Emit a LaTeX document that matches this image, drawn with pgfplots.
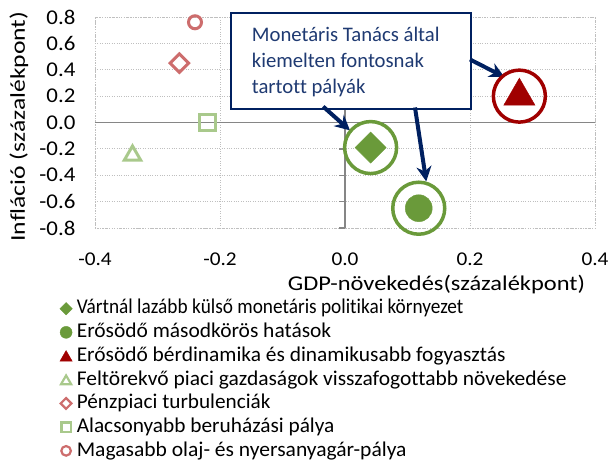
\documentclass[border=0pt]{standalone}
\usepackage{graphicx}
\usepackage{pgfplots}
\pgfplotsset{compat=1.18}
\usetikzlibrary{arrows.meta}
\usepackage{fontspec}
\setmainfont{Carlito}[Ligatures=CommonOff]
\newfontfamily\ytickfont{Carlito}[FakeStretch=1.09]
\newfontfamily\xtickfont{Carlito}[FakeStretch=1.09]
\definecolor{cgreen}{HTML}{6A9A3A}
\definecolor{clgreen}{HTML}{A9C98C}
\definecolor{clred}{HTML}{CD6D6D}
\definecolor{cdred}{HTML}{A00000}
\definecolor{cnavy}{HTML}{002060}
\definecolor{ctext}{HTML}{1F3A72}
\definecolor{cgrid}{HTML}{BFBFBF}
\definecolor{caxis}{HTML}{868686}
\newcommand{\lw}[2]{\resizebox{#1bp}{\height}{#2}}
\begin{document}
\begin{tikzpicture}
\path[use as bounding box] (-95bp,-235bp) rectangle (517bp,228bp);
\begin{axis}[
  at={(0,0)}, anchor=south west,
  scale only axis, width=500bp, height=211bp,
  xmin=-0.4, xmax=0.4, ymin=-0.8, ymax=0.8,
  xtick={-0.4,-0.2,0,0.2,0.4},
  ytick={-0.8,-0.6,-0.4,-0.2,0,0.2,0.4,0.6,0.8},
  major tick length=0pt,
  grid=major,
  grid style={cgrid, dotted, line width=0.8bp},
  axis line style={cgrid, dotted, line width=0.8bp},
  clip=false,
  /pgf/number format/assume math mode=true,
  /pgf/number format/.cd, fixed, fixed zerofill, precision=1, /pgfplots/.cd,
  yticklabel style={font=\ytickfont\fontsize{21bp}{25bp}\selectfont, text=black, xshift=-16bp},
  xticklabel style={font=\xtickfont\fontsize{19.5bp}{24bp}\selectfont, text=black, yshift=-21bp},
  xlabel={\lw{297}{GDP-növekedés(százalékpont)}},
  ylabel={\lw{230}{Infláció (százalékpont)}},
  label style={font=\fontsize{21bp}{25bp}\selectfont},
  xlabel style={at={(axis description cs:0.683,-0.266)}, anchor=center},
  ylabel style={at={(axis description cs:-0.152,0.480)}, anchor=center, rotate=0},
  legend style={draw=none, fill=none, at={(axis description cs:-0.0746,-0.3256)}, anchor=north west,
    font=\fontsize{21bp}{25bp}\selectfont, row sep=0.2bp, inner sep=0pt,
    nodes={inner sep=1bp, text height=16bp, text depth=5.5bp}},
  legend cell align=left,
]
% axis lines at zero
\draw[caxis, line width=1.5bp] (axis cs:-0.4,0) -- (axis cs:0.4,0);
\draw[caxis, line width=1.5bp] (axis cs:0,-0.8) -- (axis cs:0,0.8);
\pgfplotsinvokeforeach{-0.8,-0.6,-0.4,-0.2,0.2,0.4,0.6,0.8}{
  \draw[caxis, line width=1.5bp] (axis cs:0,#1) -- ([xshift=-6bp]axis cs:0,#1);
}
% series
\addplot[only marks, mark=square*, mark options={rotate=45, fill=cgreen, draw=cgreen}, mark size=11bp,
  legend image code/.code={\path (0,0) (17.5bp,0); \draw[only marks, mark=square*, mark options={rotate=45, fill=cgreen, draw=cgreen}, mark size=4.4bp] plot coordinates {(8bp,0)};}]
  coordinates {(0.041,-0.19)};
\addlegendentry{\lw{386.7}{Vártnál lazább külső monetáris politikai környezet}}
\addplot[only marks, mark=*, mark options={fill=cgreen, draw=cgreen}, mark size=13.5bp,
  legend image code/.code={\path (0,0) (17.5bp,0); \draw[only marks, mark=*, mark options={fill=cgreen, draw=cgreen}, mark size=6bp] plot coordinates {(8bp,0)};}]
  coordinates {(0.118,-0.65)};
\addlegendentry{\lw{254.5}{Erősödő másodkörös hatások}}
\addplot[only marks, mark=triangle*, mark options={fill=cdred, draw=cdred}, mark size=18bp,
  legend image code/.code={\path (0,0) (17.5bp,0); \draw[only marks, mark=triangle*, mark options={fill=cdred, draw=cdred}, mark size=7bp] plot coordinates {(8bp,-1.5bp)};}]
  coordinates {(0.279,0.2)};
\addlegendentry{\lw{428.7}{Erősödő bérdinamika és dinamikusabb fogyasztás}}
\addplot[only marks, mark=triangle, mark options={draw=clgreen, line width=3bp}, mark size=9.5bp,
  legend image code/.code={\path (0,0) (17.5bp,0); \draw[only marks, mark=triangle, mark options={draw=clgreen, line width=2.2bp}, mark size=5.8bp] plot coordinates {(8bp,-1.5bp)};}]
  coordinates {(-0.34,-0.25)};
\addlegendentry{\lw{489.7}{Feltörekvő piaci gazdaságok visszafogottabb növekedése}}
\addplot[only marks, mark=square, mark options={rotate=45, draw=clred, line width=3bp}, mark size=6.5bp,
  legend image code/.code={\path (0,0) (17.5bp,0); \draw[only marks, mark=square, mark options={rotate=45, draw=clred, line width=2.2bp}, mark size=3.8bp] plot coordinates {(8bp,0)};}]
  coordinates {(-0.265,0.45)};
\addlegendentry{\lw{193.7}{Pénzpiaci turbulenciák}}
\addplot[only marks, mark=square, mark options={draw=clgreen, line width=3bp}, mark size=8bp,
  legend image code/.code={\path (0,0) (17.5bp,0); \draw[only marks, mark=square, mark options={draw=clgreen, line width=2.2bp}, mark size=4.6bp] plot coordinates {(8bp,0)};}]
  coordinates {(-0.22,0.0)};
\addlegendentry{\lw{257.7}{Alacsonyabb beruházási pálya}}
\addplot[only marks, mark=o, mark options={draw=clred, line width=3bp}, mark size=6.5bp,
  legend image code/.code={\path (0,0) (17.5bp,0); \draw[only marks, mark=o, mark options={draw=clred, line width=2.2bp}, mark size=4.8bp] plot coordinates {(8bp,0)};}]
  coordinates {(-0.24,0.76)};
\addlegendentry{\lw{329.7}{Magasabb olaj- és nyersanyagár-pálya}}
% highlight rings
\addplot[only marks, mark=o, mark size=26bp, mark options={draw=cgreen, line width=3.5bp}, forget plot]
  coordinates {(0.041,-0.19) (0.118,-0.65)};
\addplot[only marks, mark=o, mark size=26bp, mark options={draw=cdred, line width=3.5bp}, forget plot]
  coordinates {(0.279,0.2)};
% annotation box
\node[draw=cnavy, line width=1.8bp, fill=white, anchor=north west, minimum width=240bp, minimum height=96bp,
  inner sep=0pt] (box) at (axis cs:-0.184,0.84) {};
\node[anchor=base west, text=ctext, font=\fontsize{20.7bp}{26bp}\selectfont, inner sep=0pt]
  at ([xshift=21.7bp,yshift=-29.6bp]box.north west) {Monetáris Tanács által};
\node[anchor=base west, text=ctext, font=\fontsize{20.7bp}{26bp}\selectfont, inner sep=0pt]
  at ([xshift=21.7bp,yshift=-55.9bp]box.north west) {kiemelten fontosnak};
\node[anchor=base west, text=ctext, font=\fontsize{20.7bp}{26bp}\selectfont, inner sep=0pt]
  at ([xshift=21.7bp,yshift=-82bp]box.north west) {tartott pályák};
\draw[cnavy, line width=4bp, -{Stealth[length=15bp,width=15bp]}] (axis cs:0.2,0.478) -- (axis cs:0.255,0.345);
\draw[cnavy, line width=4bp, -{Stealth[length=15bp,width=15bp]}] (axis cs:-0.035,0.121) -- (axis cs:0.008,-0.06);
\draw[cnavy, line width=4bp, -{Stealth[length=15bp,width=15bp]}] (axis cs:0.112,0.114) -- (axis cs:0.13,-0.447);
\end{axis}
\end{tikzpicture}
\end{document}
